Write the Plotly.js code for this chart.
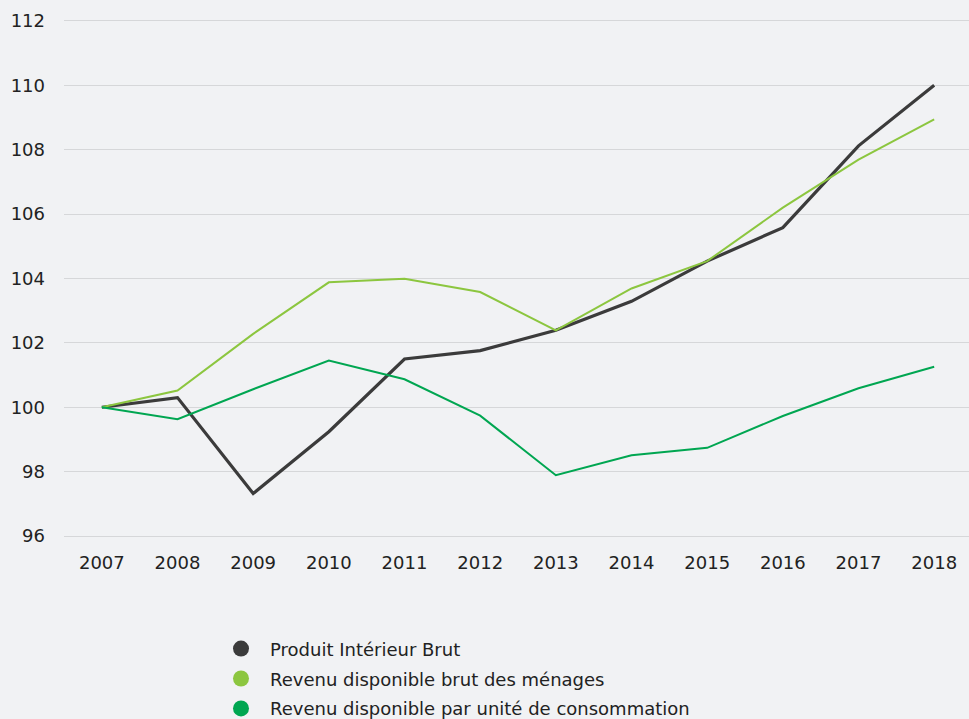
<!DOCTYPE html>
<html>
<head>
<meta charset="utf-8">
<script src="https://cdn.plot.ly/plotly-3.0.1.min.js"></script>
<style>
  html, body { margin: 0; padding: 0; background: #f1f2f4; }
  #chart { width: 969px; height: 719px; }
</style>
</head>
<body>
<div id="chart"></div>
<script>
// Années
var years = ['2007', '2008', '2009', '2010', '2011', '2012', '2013', '2014', '2015', '2016', '2017', '2018'];

// Indices base 100 en 2007
var pib = [100, 100.30, 97.32, 99.24, 101.50, 101.76, 102.39, 103.29, 104.54, 105.58, 108.12, 110.0];
var rdbMenages = [100, 100.52, 102.28, 103.88, 103.99, 103.58, 102.39, 103.69, 104.54, 106.20, 107.69, 108.94];
var rdbParUC = [100, 99.63, 100.56, 101.45, 100.87, 99.74, 97.89, 98.51, 98.74, 99.73, 100.59, 101.26];

var names = ['Produit Intérieur Brut', 'Revenu disponible brut des ménages', 'Revenu disponible par unité de consommation'];
var colors = ['#3b3b3b', '#8cc63f', '#00a651'];

var series = [pib, rdbMenages, rdbParUC];
var widths = [3.2, 2, 2];

var data = [];
series.forEach(function (vals, i) {
    data.push({
        x: years,
        y: vals,
        type: 'scatter',
        mode: 'lines',
        name: names[i],
        line: {color: colors[i], width: widths[i]},
        showlegend: false,
        hoverinfo: 'x+y'
    });
});

// légende avec des pastilles rondes
names.forEach(function (n, i) {
    data.push({
        x: [null],
        y: [null],
        type: 'scatter',
        mode: 'markers',
        name: n,
        legendgroup: 'g' + i,
        marker: {color: colors[i], size: 18, symbol: 'circle'},
        showlegend: true
    });
});

var layout = {
    width: 969,
    height: 719,
    paper_bgcolor: '#f1f2f4',
    plot_bgcolor: '#f1f2f4',
    font: {family: 'DejaVu Sans, Verdana, sans-serif', size: 18, color: '#222222'},
    margin: {l: 64, r: 0, t: 18.5, b: 180.5, autoexpand: false},
    xaxis: {
        type: 'category',
        range: [-0.5, 11.46],
        showgrid: false,
        zeroline: false,
        showline: false,
        ticks: '',
        ticklabelstandoff: 12,
        fixedrange: true
    },
    yaxis: {
        range: [95.94, 112.06],
        dtick: 2,
        tick0: 96,
        showgrid: true,
        gridcolor: '#d6d7d9',
        gridwidth: 1,
        zeroline: false,
        showline: false,
        ticks: '',
        ticklabelstandoff: 18,
        fixedrange: true
    },
    legend: {
        x: (212 - 64) / 905,
        xanchor: 'left',
        y: -0.178,
        yanchor: 'top',
        orientation: 'v',
        itemwidth: 48,
        tracegroupgap: 3.5,
        traceorder: 'grouped',
        bgcolor: 'rgba(0,0,0,0)',
        font: {size: 18, color: '#222222'},
        itemclick: false,
        itemdoubleclick: false
    },
    showlegend: true
};

Plotly.newPlot('chart', data, layout, {displayModeBar: false, staticPlot: true});
</script>
</body>
</html>
